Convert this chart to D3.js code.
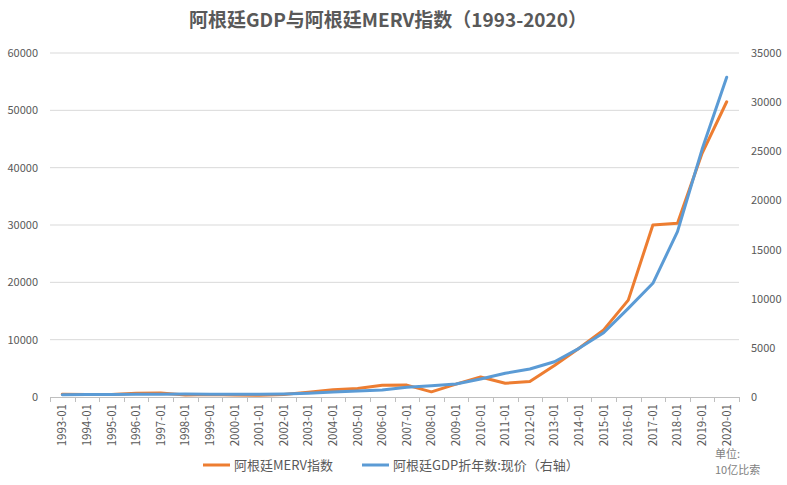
<!DOCTYPE html>
<html><head><meta charset="utf-8">
<script src="https://cdn.jsdelivr.net/npm/d3@7"></script>
<style>body{margin:0;background:#fff}svg{display:block;font-family:"Noto Sans CJK SC","Noto Sans",sans-serif}</style>
</head><body><svg id="c" width="787" height="485"></svg>
<script>
const years = ["1993-01","1994-01","1995-01","1996-01","1997-01","1998-01","1999-01","2000-01","2001-01","2002-01","2003-01","2004-01","2005-01","2006-01","2007-01","2008-01","2009-01","2010-01","2011-01","2012-01","2013-01","2014-01","2015-01","2016-01","2017-01","2018-01","2019-01","2020-01"];
const merv = [500,450,450,650,700,350,450,350,300,450,850,1250,1500,2050,2080,900,2250,3500,2400,2700,5500,8500,11700,16900,30000,30300,42500,51500];
const gdp = [240,260,260,270,290,300,285,285,270,310,380,500,620,720,1000,1150,1320,1830,2410,2850,3590,4950,6540,9020,11570,16820,25200,32530];
const leftTicks = [0,10000,20000,30000,40000,50000,60000];
const rightTicks = [0,5000,10000,15000,20000,25000,30000,35000];
const title = "阿根廷GDP与阿根廷MERV指数（1993-2020）";
const names = ["阿根廷MERV指数","阿根廷GDP折年数:现价（右轴）"];
const colors = ["#ED7D31","#5B9BD5"];

const svg = d3.select("#c");
const L = 50, R = 739, T = 53, B = 397;
const x = d3.scaleBand().domain(years).range([L, R]);
const yL = d3.scaleLinear().domain([0,60000]).range([B,T]);
const yR = d3.scaleLinear().domain([0,35000]).range([B,T]);
const txt = "#595959";

svg.append("text").attr("x",388).attr("y",27).attr("text-anchor","middle")
  .attr("font-size",19).attr("font-weight","bold").attr("fill",txt).text(title);

// grid
svg.append("g").selectAll("line").data(leftTicks.slice(1)).join("line")
  .attr("x1",L).attr("x2",R).attr("y1",d=>yL(d)).attr("y2",d=>yL(d))
  .attr("stroke","#d9d9d9").attr("stroke-width",1);

// left axis labels
svg.append("g").selectAll("text").data(leftTicks).join("text")
  .attr("x",38).attr("y",d=>yL(d)+4).attr("text-anchor","end")
  .attr("font-size",11).attr("fill",txt).text(d=>d);
// right axis labels
svg.append("g").selectAll("text").data(rightTicks).join("text")
  .attr("x",751).attr("y",d=>yR(d)+4).attr("text-anchor","start")
  .attr("font-size",11).attr("fill",txt).text(d=>d);

// x axis
const xa = svg.append("g");
xa.append("line").attr("x1",L).attr("x2",R).attr("y1",B+0.5).attr("y2",B+0.5).attr("stroke","#bfbfbf");
const bounds = years.map(d=>x(d)).concat([R]);
xa.selectAll("line.t").data(bounds).join("line").attr("class","t")
  .attr("x1",d=>Math.round(d)+0.5).attr("x2",d=>Math.round(d)+0.5).attr("y1",B).attr("y2",B+5).attr("stroke","#bfbfbf");
xa.selectAll("text").data(years).join("text")
  .attr("transform",d=>`translate(${x(d)+x.bandwidth()/2+4},${B+7}) rotate(-90)`)
  .attr("text-anchor","end").attr("font-size",11.5).attr("fill",txt).text(d=>d);

// lines
const cx = d=>x(d)+x.bandwidth()/2;
svg.append("path").datum(merv).attr("fill","none").attr("stroke",colors[0]).attr("stroke-width",3)
  .attr("stroke-linejoin","round").attr("stroke-linecap","round")
  .attr("d", d3.line().x((d,i)=>cx(years[i])).y(d=>yL(d)));
svg.append("path").datum(gdp).attr("fill","none").attr("stroke",colors[1]).attr("stroke-width",3)
  .attr("stroke-linejoin","round").attr("stroke-linecap","round")
  .attr("d", d3.line().x((d,i)=>cx(years[i])).y(d=>yR(d)));

// legend
const lg = [{x:203,n:names[0],c:colors[0]},{x:362,n:names[1],c:colors[1]}];
const g = svg.append("g").selectAll("g").data(lg).join("g");
g.append("line").attr("x1",d=>d.x).attr("x2",d=>d.x+27).attr("y1",465).attr("y2",465)
  .attr("stroke",d=>d.c).attr("stroke-width",3);
g.append("text").attr("x",d=>d.x+31).attr("y",470).attr("font-size",13).attr("fill",txt).text(d=>d.n);

svg.append("text").attr("x",715).attr("y",458).attr("font-size",11).attr("fill","#7f7f7f").text("单位:");
svg.append("text").attr("x",715).attr("y",474).attr("font-size",11).attr("fill","#7f7f7f").text("10亿比索");
</script></body></html>
